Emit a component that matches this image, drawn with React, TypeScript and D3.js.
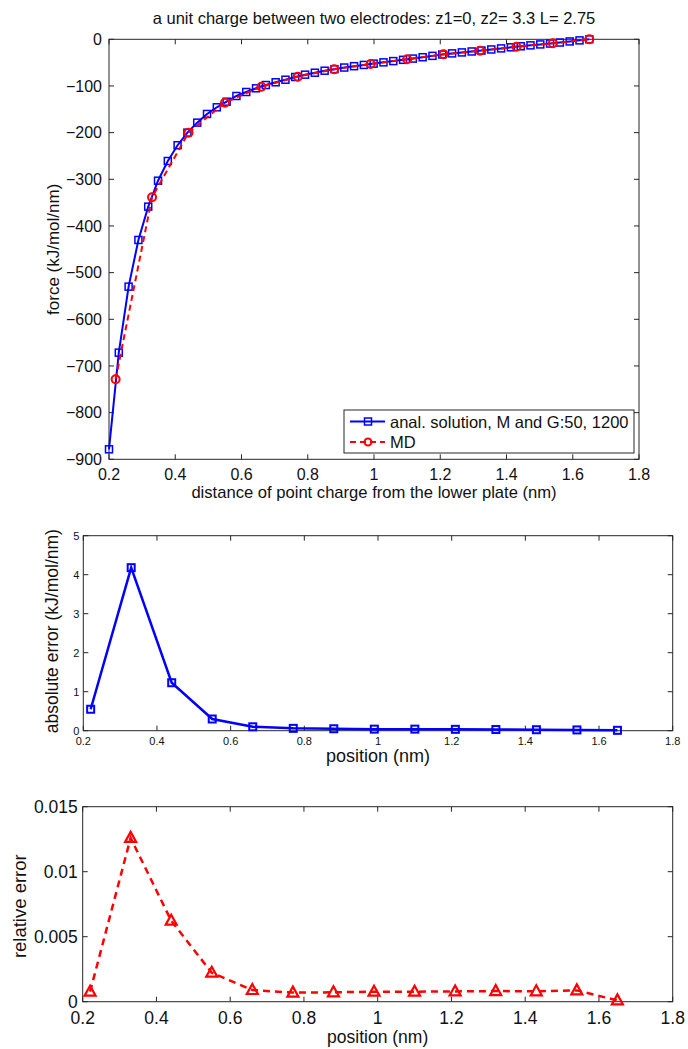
import React from "react";
import * as d3 from "d3";

// ---------- data ----------
const analX = [
  0.2, 0.2296, 0.2592, 0.2888, 0.3184, 0.348, 0.3776, 0.4071, 0.4367, 0.4663,
  0.4959, 0.5255, 0.5551, 0.5847, 0.6143, 0.6439, 0.6735, 0.7031, 0.7327, 0.7622,
  0.7918, 0.8214, 0.851, 0.8806, 0.9102, 0.9398, 0.9694, 0.999, 1.0286, 1.0582,
  1.0878, 1.1173, 1.1469, 1.1765, 1.2061, 1.2357, 1.2653, 1.2949, 1.3245, 1.3541,
  1.3837, 1.4133, 1.4429, 1.4724, 1.502, 1.5316, 1.5612, 1.5908, 1.6204, 1.65,
];
const analF = [
  -878.6, -671.5, -530, -430, -358.6, -303, -260.8, -227, -200, -178.6,
  -160, -145.7, -133.7, -121.5, -112.9, -105, -98, -92.1, -86.6, -80.8,
  -75.8, -71.6, -67.3, -64, -60.5, -57.6, -54.9, -52.1, -49.4, -46.7,
  -44.0, -41.3, -38.4, -35.5, -32.6, -30.2, -28.1, -26.1, -24.1, -21.8,
  -19.5, -17.2, -15.0, -13.0, -11.0, -9.1, -6.9, -4.6, -2.3, 0,
];
const mdX = [0.22, 0.33, 0.44, 0.55, 0.66, 0.77, 0.88, 0.99, 1.1, 1.21, 1.32, 1.43, 1.54, 1.65];
const mdF = [-728.6, -338.6, -200, -135.8, -101.5, -80, -64.3, -52.9, -42.9, -32.1, -24.4, -15.9, -8.6, 0];
const absErr = [0.55, 4.18, 1.23, 0.3, 0.1, 0.06, 0.05, 0.04, 0.04, 0.035, 0.03, 0.025, 0.02, 0.01];
const relErr = [0.00077, 0.0126, 0.00623, 0.00223, 0.0009, 0.0007, 0.00072, 0.00077, 0.00077, 0.00079, 0.00082, 0.0008, 0.00087, 0.0001];

const xTicksAll = [0.2, 0.4, 0.6, 0.8, 1, 1.2, 1.4, 1.6, 1.8];
const topYTicks = [-900, -800, -700, -600, -500, -400, -300, -200, -100, 0];
const midYTicks = [0, 1, 2, 3, 4, 5];
const botYTicks = [0, 0.005, 0.01, 0.015];

const FONT = "'Liberation Sans', Arial, Helvetica, sans-serif";
const BLUE = "#0000ff";
const RED = "#ff0000";

type Box = { l: number; r: number; t: number; b: number };

function Axes({
  box, x, y, xTicks, yTicks, tickFont, xFmt, yFmt, xLabelGap, yLabelGap, tickLen,
}: {
  box: Box; x: d3.ScaleLinear<number, number>; y: d3.ScaleLinear<number, number>;
  xTicks: number[]; yTicks: number[]; tickFont: number;
  xFmt: (v: number) => string; yFmt: (v: number) => string;
  xLabelGap: number; yLabelGap: number; tickLen: number;
}) {
  const c = "#262626";
  return (
    <g>
      <rect x={box.l} y={box.t} width={box.r - box.l} height={box.b - box.t} fill="none" stroke={c} strokeWidth={1} />
      {xTicks.map((v) => (
        <g key={"x" + v}>
          <line x1={x(v)} x2={x(v)} y1={box.b} y2={box.b - tickLen} stroke={c} />
          <line x1={x(v)} x2={x(v)} y1={box.t} y2={box.t + tickLen} stroke={c} />
          <text x={x(v)} y={box.b + xLabelGap} textAnchor="middle" fontSize={tickFont} fontFamily={FONT} fill="#111">
            {xFmt(v)}
          </text>
        </g>
      ))}
      {yTicks.map((v) => (
        <g key={"y" + v}>
          <line x1={box.l} x2={box.l + tickLen} y1={y(v)} y2={y(v)} stroke={c} />
          <line x1={box.r} x2={box.r - tickLen} y1={y(v)} y2={y(v)} stroke={c} />
          <text x={box.l - yLabelGap} y={y(v)} dy="0.35em" textAnchor="end" fontSize={tickFont} fontFamily={FONT} fill="#111">
            {yFmt(v)}
          </text>
        </g>
      ))}
    </g>
  );
}

const fmtNum = (v: number) => String(+v.toFixed(4));

export default function App() {
  // ---- top panel ----
  const b1: Box = { l: 109, r: 639, t: 39.3, b: 459.3 };
  const x1 = d3.scaleLinear().domain([0.2, 1.8]).range([b1.l, b1.r]);
  const y1 = d3.scaleLinear().domain([-900, 0]).range([b1.b, b1.t]);
  const anal = analX.map((xv, i) => [xv, analF[i]] as [number, number]);
  const md = mdX.map((xv, i) => [xv, mdF[i]] as [number, number]);
  const line1 = d3.line<[number, number]>().x((d) => x1(d[0])).y((d) => y1(d[1]));

  // ---- middle panel ----
  const b2: Box = { l: 83.3, r: 672.7, t: 535.7, b: 730.7 };
  const x2 = d3.scaleLinear().domain([0.2, 1.8]).range([b2.l, b2.r]);
  const y2 = d3.scaleLinear().domain([0, 5]).range([b2.b, b2.t]);
  const absPts = mdX.map((xv, i) => [xv, absErr[i]] as [number, number]);
  const line2 = d3.line<[number, number]>().x((d) => x2(d[0])).y((d) => y2(d[1]));

  // ---- bottom panel ----
  const b3: Box = { l: 82.7, r: 672.7, t: 806.7, b: 1001.7 };
  const x3 = d3.scaleLinear().domain([0.2, 1.8]).range([b3.l, b3.r]);
  const y3 = d3.scaleLinear().domain([0, 0.015]).range([b3.b, b3.t]);
  const relPts = mdX.map((xv, i) => [xv, relErr[i]] as [number, number]);
  const line3 = d3.line<[number, number]>().x((d) => x3(d[0])).y((d) => y3(d[1]));

  const tri = (cx: number, cy: number, s: number) =>
    `M${cx},${cy - s * 0.6} L${cx + s * 0.55},${cy + s * 0.4} L${cx - s * 0.55},${cy + s * 0.4} Z`;

  return (
    <svg width={688} height={1049} style={{ position: "absolute", left: 0, top: 0, background: "#fff" }}>
      <rect x={0} y={0} width={688} height={1049} fill="#fff" />

      {/* ===== top ===== */}
      <text x={(b1.l + b1.r) / 2} y={24} textAnchor="middle" fontSize={16.5} fontFamily={FONT} fill="#111">
        a unit charge between two electrodes: z1=0, z2= 3.3 L= 2.75
      </text>
      <Axes box={b1} x={x1} y={y1} xTicks={xTicksAll} yTicks={topYTicks} tickFont={16}
        xFmt={fmtNum} yFmt={(v) => (v === 0 ? "0" : "\u2212" + Math.abs(v))} xLabelGap={20.5} yLabelGap={7} tickLen={5} />
      <path d={line1(anal) || ""} fill="none" stroke={BLUE} strokeWidth={2} />
      {anal.map((d, i) => (
        <rect key={"s" + i} x={x1(d[0]) - 3.5} y={y1(d[1]) - 3.5} width={7} height={7} fill="none" stroke={BLUE} strokeWidth={1.5} />
      ))}
      <path d={line1(md) || ""} fill="none" stroke={RED} strokeWidth={2} strokeDasharray="6,4" />
      {md.map((d, i) => (
        <circle key={"c" + i} cx={x1(d[0])} cy={y1(d[1])} r={4} fill="none" stroke={RED} strokeWidth={2} />
      ))}
      <text x={(b1.l + b1.r) / 2} y={498} textAnchor="middle" fontSize={16.6} fontFamily={FONT} fill="#111">
        distance of point charge from the lower plate (nm)
      </text>
      <text transform={`translate(59,${(b1.t + b1.b) / 2}) rotate(-90)`} textAnchor="middle" fontSize={17} fontFamily={FONT} fill="#111">
        force (kJ/mol/nm)
      </text>

      {/* legend */}
      <g>
        <rect x={344} y={410} width={290} height={43} fill="#fff" stroke="#262626" strokeWidth={1} />
        <line x1={350} x2={385} y1={421.5} y2={421.5} stroke={BLUE} strokeWidth={2} />
        <rect x={364.5} y={418} width={7} height={7} fill="none" stroke={BLUE} strokeWidth={1.5} />
        <text x={390} y={427.5} fontSize={16.5} fontFamily={FONT} fill="#111">anal. solution, M and G:50, 1200</text>
        <line x1={350} x2={385} y1={442} y2={442} stroke={RED} strokeWidth={2} strokeDasharray="6,4" />
        <circle cx={368} cy={442} r={3.5} fill="none" stroke={RED} strokeWidth={2} />
        <text x={390} y={448} fontSize={16.5} fontFamily={FONT} fill="#111">MD</text>
      </g>

      {/* ===== middle ===== */}
      <Axes box={b2} x={x2} y={y2} xTicks={xTicksAll} yTicks={midYTicks} tickFont={11}
        xFmt={fmtNum} yFmt={fmtNum} xLabelGap={14} yLabelGap={4} tickLen={5} />
      <path d={line2(absPts) || ""} fill="none" stroke={BLUE} strokeWidth={2.5} />
      {absPts.map((d, i) => (
        <rect key={"a" + i} x={x2(d[0]) - 3.5} y={y2(d[1]) - 3.5} width={7} height={7} fill="none" stroke={BLUE} strokeWidth={2} />
      ))}
      <text x={(b2.l + b2.r) / 2} y={762} textAnchor="middle" fontSize={18} fontFamily={FONT} fill="#111">
        position (nm)
      </text>
      <text transform={`translate(58,${(b2.t + b2.b) / 2 - 2}) rotate(-90)`} textAnchor="middle" fontSize={17.5} fontFamily={FONT} fill="#111">
        absolute error (kJ/mol/nm)
      </text>

      {/* ===== bottom ===== */}
      <Axes box={b3} x={x3} y={y3} xTicks={xTicksAll} yTicks={botYTicks} tickFont={17.5}
        xFmt={fmtNum} yFmt={fmtNum} xLabelGap={22.5} yLabelGap={5} tickLen={5} />
      <path d={line3(relPts) || ""} fill="none" stroke={RED} strokeWidth={2.5} strokeDasharray="7,5" />
      {relPts.map((d, i) => (
        <path key={"t" + i} d={tri(x3(d[0]), y3(d[1]), 10)} fill="none" stroke={RED} strokeWidth={2.2} />
      ))}
      <text x={(b3.l + b3.r) / 2} y={1043} textAnchor="middle" fontSize={17.5} fontFamily={FONT} fill="#111">
        position (nm)
      </text>
      <text transform={`translate(26,${(b3.t + b3.b) / 2 + 2}) rotate(-90)`} textAnchor="middle" fontSize={18.5} fontFamily={FONT} fill="#111">
        relative error
      </text>
    </svg>
  );
}
